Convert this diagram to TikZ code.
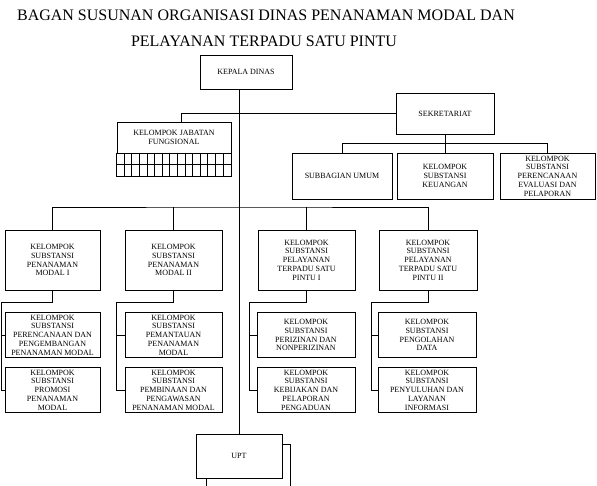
\documentclass[tikz,border=0pt]{standalone}
\usepackage{fontspec}
\setmainfont{Liberation Serif}
\usepackage{tikz}

\begin{document}
\begin{tikzpicture}[x=0.75pt,y=-0.75pt,line width=0.6pt,
    box/.style={draw, fill=white, inner sep=0pt, align=center,
      font=\fontsize{6}{6.6}\selectfont},
    sz/.style 2 args={minimum width=#1*0.75pt, minimum height=#2*0.75pt}]

  \useasboundingbox (0,0) rectangle (597,486);
  \clip (0,0) rectangle (597,486);

  \node (title1) at (266,15) {\fontsize{12}{14}\selectfont BAGAN SUSUNAN ORGANISASI DINAS PENANAMAN MODAL DAN};
  \node (title2) at (264,41) {\fontsize{12}{14}\selectfont PELAYANAN TERPADU SATU PINTU};

  \node[box, sz={92}{34}] (kadis) at (246,72) {KEPALA DINAS};
  \node[box, sz={98}{41}] (sekre) at (445,113.5) {SEKRETARIAT};
  \node[box, sz={114}{31}] (jabfung) at (174,137.5) {KELOMPOK JABATAN\\FUNGSIONAL};
  \draw (jabfung.south west) rectangle ([yshift=-17.25pt]jabfung.south east);
  \draw ([yshift=-8.6pt]jabfung.south west) -- ([yshift=-8.6pt]jabfung.south east);
  \foreach \k in {1,...,14}
    \draw ([xshift=\k*5.7pt]jabfung.south west) -- ++(0,23);

  \node[box, sz={100}{46}] (subum) at (342,176) {SUBBAGIAN UMUM};
  \node[box, sz={96}{46}] (keu) at (445,176) {KELOMPOK\\SUBSTANSI\\KEUANGAN};
  \node[box, sz={95}{46}] (eval) at (547.5,176) {KELOMPOK\\SUBSTANSI\\PERENCANAAN\\EVALUASI DAN\\PELAPORAN};

  \node[box, sz={95}{60}] (pm1) at (52.5,260) {KELOMPOK\\SUBSTANSI\\PENANAMAN\\MODAL I};
  \node[box, sz={97}{60}] (pm2) at (173.5,260) {KELOMPOK\\SUBSTANSI\\PENANAMAN\\MODAL II};
  \node[box, sz={97}{60}] (pt1) at (306.5,260) {KELOMPOK\\SUBSTANSI\\PELAYANAN\\TERPADU SATU\\PINTU I};
  \node[box, sz={98}{60}] (pt2) at (428,260) {KELOMPOK\\SUBSTANSI\\PELAYANAN\\TERPADU SATU\\PINTU II};

  \node[box, sz={95}{45}] (a1) at (52.5,335) {KELOMPOK\\SUBSTANSI\\PERENCANAAN DAN\\PENGEMBANGAN\\PENANAMAN MODAL};
  \node[box, sz={95}{45}] (a2) at (52.5,390) {KELOMPOK\\SUBSTANSI\\PROMOSI\\PENANAMAN\\MODAL};
  \node[box, sz={97}{45}] (b1) at (173.5,335) {KELOMPOK\\SUBSTANSI\\PEMANTAUAN\\PENANAMAN\\MODAL};
  \node[box, sz={97}{45}] (b2) at (173.5,390) {KELOMPOK\\SUBSTANSI\\PEMBINAAN DAN\\PENGAWASAN\\PENANAMAN MODAL};
  \node[box, sz={98}{45}] (c1) at (306,335) {KELOMPOK\\SUBSTANSI\\PERIZINAN DAN\\NONPERIZINAN};
  \node[box, sz={98}{45}] (c2) at (306,390) {KELOMPOK\\SUBSTANSI\\KEBIJAKAN DAN\\PELAPORAN\\PENGADUAN};
  \node[box, sz={98}{45}] (d1) at (427,335) {KELOMPOK\\SUBSTANSI\\PENGOLAHAN\\DATA};
  \node[box, sz={98}{45}] (d2) at (427,390) {KELOMPOK\\SUBSTANSI\\PENYULUHAN DAN\\LAYANAN\\INFORMASI};

  \draw[fill=white] (206,444) rectangle (290,500);
  \node[box, sz={86}{44}] (upt) at (239,456) {UPT};

  \draw (kadis.south -| upt.north) -- (upt.north);
  \draw (sekre.west) -| ([xshift=5.25pt]jabfung.north);
  \draw (sekre.south) -- ++(0,9) coordinate (sekbus);
  \draw (subum.north) |- (sekbus) -| (eval.north);
  \draw (sekbus) -- (keu.north);

  \coordinate (bus) at (238,207);
  \draw (pm1.north) |- (bus) -| (pt2.north);
  \draw (pm2.north) -- (pm2.north |- bus);
  \draw (pt1.north) -- (pt1.north |- bus);

  \foreach \p/\a/\b/\x in {pm1/a1/a2/1, pm2/b1/b2/116, pt1/c1/c2/249, pt2/d1/d2/371} {
    \coordinate (k\p) at (\x,302);
    \draw (\p.south) |- (k\p) |- (\b.west);
    \draw (k\p |- \a.west) -- (\a.west);
  }
\end{tikzpicture}
\end{document}
